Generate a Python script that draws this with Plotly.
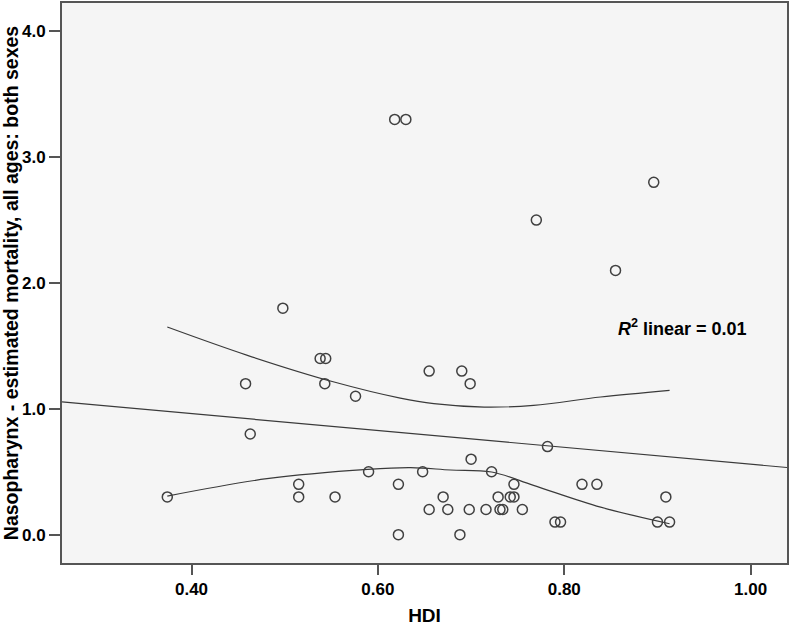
import plotly.graph_objects as go

# HDI vs nasopharynx mortality
hdi = [0.374, 0.458, 0.463, 0.498, 0.515, 0.515, 0.538, 0.544, 0.543, 0.554,
       0.576, 0.590, 0.618, 0.622, 0.622, 0.630, 0.648, 0.655, 0.655, 0.670,
       0.675, 0.688, 0.690, 0.699, 0.700, 0.698, 0.716, 0.722, 0.729, 0.731,
       0.734, 0.742, 0.746, 0.746, 0.755, 0.770, 0.782, 0.790, 0.796, 0.819,
       0.835, 0.855, 0.896, 0.900, 0.909, 0.913]
mortality = [0.3, 1.2, 0.8, 1.8, 0.4, 0.3, 1.4, 1.4, 1.2, 0.3,
             1.1, 0.5, 3.3, 0.4, 0.0, 3.3, 0.5, 1.3, 0.2, 0.3,
             0.2, 0.0, 1.3, 1.2, 0.6, 0.2, 0.2, 0.5, 0.3, 0.2,
             0.2, 0.3, 0.3, 0.4, 0.2, 2.5, 0.7, 0.1, 0.1, 0.4,
             0.4, 2.1, 2.8, 0.1, 0.3, 0.1]

# linear fit (as drawn) and 95% CI of the mean
fit_intercept = 1.23
fit_slope = -0.67
ci_upper_x = [0.374, 0.460, 0.553, 0.624, 0.660, 0.714, 0.767, 0.839, 0.913]
ci_upper_y = [1.650, 1.425, 1.213, 1.085, 1.041, 1.014, 1.028, 1.094, 1.147]
ci_lower_x = [0.374, 0.481, 0.589, 0.635, 0.678, 0.722, 0.767, 0.839, 0.913]
ci_lower_y = [0.307, 0.445, 0.519, 0.533, 0.514, 0.498, 0.392, 0.219, 0.087]

x_range = [0.261, 1.039]
y_range = [-0.225, 4.225]

line_color = '#3a3a3a'
font_family = 'Arial, Liberation Sans, sans-serif'

fig = go.Figure()

fit_x = x_range
fit_y = [fit_intercept + fit_slope * v for v in fit_x]
fig.add_trace(go.Scatter(x=fit_x, y=fit_y, mode='lines',
                         line=dict(color=line_color, width=1.2), hoverinfo='skip'))
fig.add_trace(go.Scatter(x=ci_upper_x, y=ci_upper_y, mode='lines',
                         line=dict(color=line_color, width=1.2, shape='spline'), hoverinfo='skip'))
fig.add_trace(go.Scatter(x=ci_lower_x, y=ci_lower_y, mode='lines',
                         line=dict(color=line_color, width=1.2, shape='spline'), hoverinfo='skip'))

fig.add_trace(go.Scatter(x=hdi, y=mortality, mode='markers',
                         marker=dict(symbol='circle-open', size=10,
                                     color='#404040', line=dict(width=1.5, color='#404040'))))

fig.add_annotation(x=0.927, y=1.648, xref='x', yref='y',
                   text='<b><i>R</i><sup>2</sup> linear = 0.01</b>',
                   showarrow=False, font=dict(family=font_family, size=18, color='black'))

fig.update_xaxes(range=x_range, tickvals=[0.4, 0.6, 0.8, 1.0], tickformat='.2f',
                 automargin=False, showgrid=False, zeroline=False,
                 showline=True, mirror=True, linecolor='#555555', linewidth=2,
                 ticks='outside', ticklen=10, tickcolor='#555555', tickwidth=1.5,
                 tickfont=dict(family=font_family, size=17, color='black', weight='bold'),
                 title=dict(text='HDI', standoff=10,
                            font=dict(family=font_family, size=19, color='black', weight='bold')))
fig.update_yaxes(range=y_range, tickvals=[0, 1, 2, 3, 4], tickformat='.1f',
                 automargin=False, showgrid=False, zeroline=False,
                 showline=True, mirror=True, linecolor='#555555', linewidth=2,
                 ticks='outside', ticklen=11, tickcolor='#555555', tickwidth=1.5,
                 tickfont=dict(family=font_family, size=17, color='black', weight='bold'),
                 title=dict(text='Nasopharynx - estimated mortality, all ages: both sexes', standoff=2,
                            font=dict(family=font_family, size=19.5, color='black', weight='bold')))

fig.update_layout(width=790, height=629, showlegend=False,
                  plot_bgcolor='#f5f5f5', paper_bgcolor='white',
                  margin=dict(l=62, r=3, t=3, b=66))

# drop the default page margin so the figure sits at the window corner
fig.write_html("out.html", config={'displayModeBar': False},
               post_script="document.body.style.margin = '0px';")
